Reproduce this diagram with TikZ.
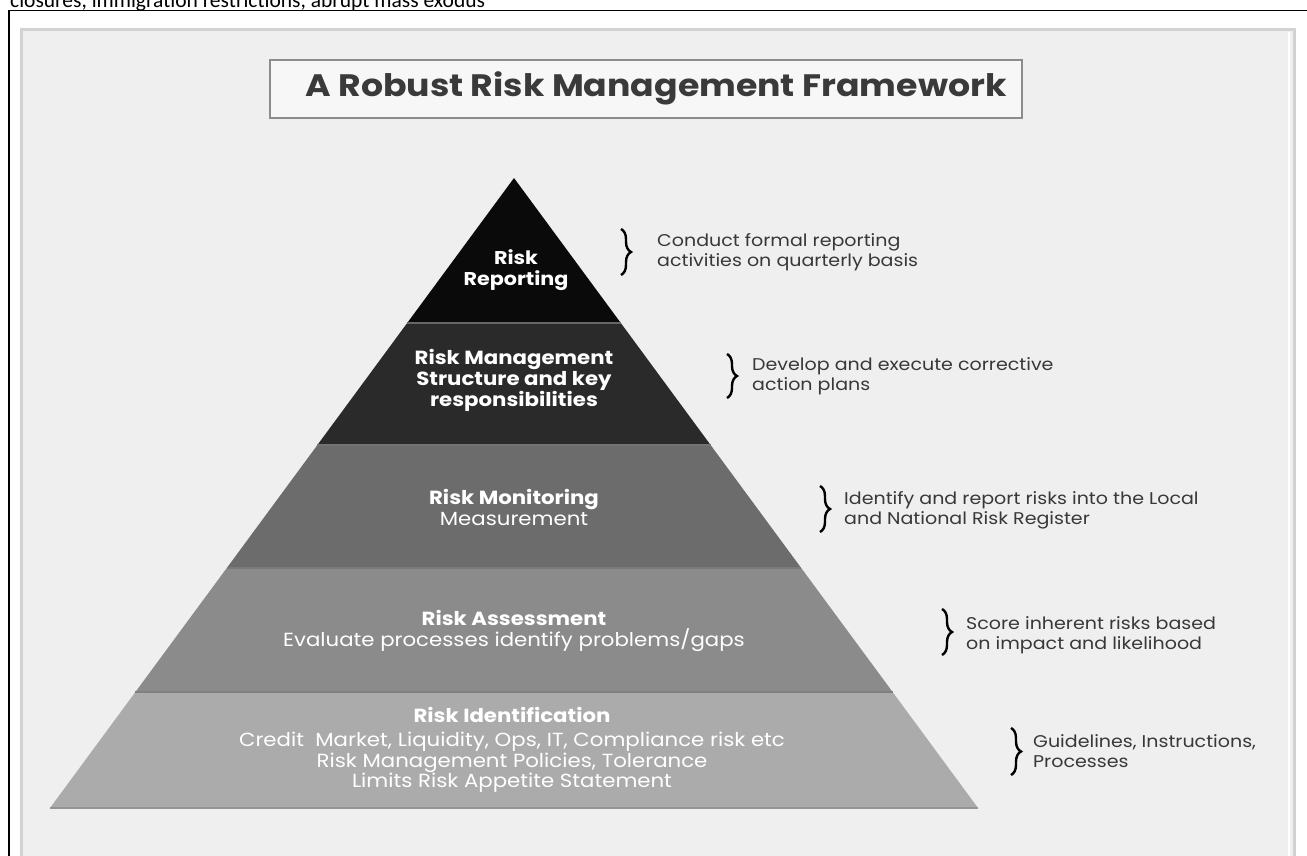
\documentclass[tikz,border=0pt]{standalone}
\usepackage{fontspec}
\setmainfont[FakeStretch=1.12]{Poppins}
\newfontfamily\topfont{Carlito}
\usetikzlibrary{decorations.pathreplacing}
\definecolor{panel}{HTML}{EFEFEF}
\definecolor{paneledge}{HTML}{D2D2D2}
\definecolor{tA}{HTML}{0A0A0A}
\definecolor{tB}{HTML}{2A2A2A}
\definecolor{tC}{HTML}{6C6C6C}
\definecolor{tD}{HTML}{8B8B8B}
\definecolor{tE}{HTML}{ABABAB}
\definecolor{notecol}{HTML}{383838}
\definecolor{titlecol}{HTML}{3A3A3A}
\tikzset{
  tiertext/.style={text=white, align=center, inner sep=0pt, font=\fontsize{19pt}{21pt}\selectfont},
  notetext/.style={anchor=west, align=left, text=notecol, inner sep=0pt, font=\fontsize{17pt}{20pt}\selectfont},
  bracemark/.style={decorate, decoration={brace, amplitude=10pt}, line width=2.4pt, black},
  tierfill/.style={fill=#1, draw=none}
}
\begin{document}
\begin{tikzpicture}[x=1pt, y=-1pt]
\useasboundingbox (0,0) rectangle (1307,855);
\clip (0,0) rectangle (1307,855);
\fill[white] (0,0) rectangle (1307,855);
% top clipped text
\node[anchor=base west, inner sep=0pt, font=\topfont\fontsize{21.5pt}{22pt}\selectfont] (toptext) at (10,7) {closures, immigration restrictions, abrupt mass exodus};
% outer frame
\draw[line width=1.6pt, black] (9,870) -- (9,10.5) -- (1320,10.5);
% panel
\draw[fill=panel, draw=paneledge, line width=3pt] (21,29) rectangle (1294,880);
\draw[white, line width=2pt] (1289,32) -- (1289,860);
% title
\node[draw=black!45, line width=2pt, fill=white!97!black, minimum width=752pt, minimum height=58pt, inner sep=0pt] (title) at (646,89) {};
\node[text=titlecol, font=\bfseries\fontsize{31pt}{34pt}\selectfont, inner sep=0pt] (titletext) at (656,88) {A Robust Risk Management Framework};
% pyramid coordinates
\coordinate (apex) at (514,178);
\coordinate (l1) at (407.2,323); \coordinate (r1) at (620.8,323);
\coordinate (l2) at (317.4,445); \coordinate (r2) at (710.6,445);
\coordinate (l3) at (226.8,568); \coordinate (r3) at (801.2,568);
\coordinate (l4) at (135.4,692); \coordinate (r4) at (892.6,692);
\coordinate (l5) at (50,808);    \coordinate (r5) at (978,808);
\fill[tierfill=tA] (apex) -- (r1) -- (l1) -- cycle;
\fill[tierfill=tB] (l1) -- (r1) -- (r2) -- (l2) -- cycle;
\fill[tierfill=tC] (l2) -- (r2) -- (r3) -- (l3) -- cycle;
\fill[tierfill=tD] (l3) -- (r3) -- (r4) -- (l4) -- cycle;
\fill[tierfill=tE] (l4) -- (r4) -- (r5) -- (l5) -- cycle;
\draw[black!60, line width=2pt] (l1) -- (r1);
\draw[black!55, line width=2pt] (l2) -- (r2);
\draw[black!52, line width=2pt] (l3) -- (r3);
\draw[black!50, line width=2pt] (l4) -- (r4);
\draw[black!42, line width=2.5pt] (l5) -- (r5);
% tier texts
\node[tiertext, font=\bfseries\fontsize{18.5pt}{21pt}\selectfont] (t1) at (516,270) {Risk\\Reporting};
\node[tiertext, font=\bfseries\fontsize{19pt}{21pt}\selectfont] (t2) at (514,380) {Risk Management\\Structure and key\\responsibilities};
\node[tiertext] (t3) at (514,507) {\textbf{Risk Monitoring}\\Measurement};
\node[tiertext] (t4) at (514,631) {\textbf{Risk Assessment}\\Evaluate processes identify problems/gaps};
\node[tiertext, font=\fontsize{19pt}{20.5pt}\selectfont] (t5) at (512,750) {\textbf{Risk Identification}\\[4pt]Credit\ \ Market, Liquidity, Ops, IT, Compliance risk etc\\Risk Management Policies, Tolerance\\Limits Risk Appetite Statement};
% braces
\coordinate (b1t) at (621,229); \coordinate (b1b) at (621,275);
\coordinate (b2t) at (727,354); \coordinate (b2b) at (727,398);
\coordinate (b3t) at (820,486); \coordinate (b3b) at (820,532);
\coordinate (b4t) at (942,609); \coordinate (b4b) at (942,655);
\coordinate (b5t) at (1011,728); \coordinate (b5b) at (1011,775);
\draw[bracemark] (b1t) -- (b1b);
\draw[bracemark] (b2t) -- (b2b);
\draw[bracemark] (b3t) -- (b3b);
\draw[bracemark] (b4t) -- (b4b);
\draw[bracemark] (b5t) -- (b5b);
% notes
\node[notetext] (n1) at (657,252) {Conduct formal reporting\\activities on quarterly basis};
\node[notetext] (n2) at (752,376) {Develop and execute corrective\\action plans};
\node[notetext] (n3) at (844,510) {Identify and report risks into the Local\\and National Risk Register};
\node[notetext] (n4) at (966,635) {Score inherent risks based\\on impact and likelihood};
\node[notetext] (n5) at (1033,751) {Guidelines, Instructions,\\Processes};
\end{tikzpicture}
\end{document}
